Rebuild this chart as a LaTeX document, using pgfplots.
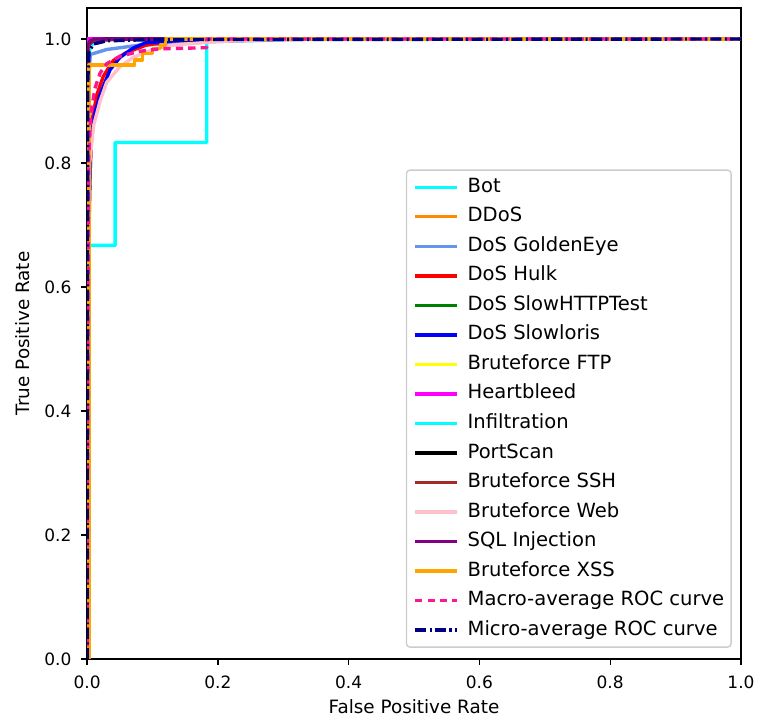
\documentclass[border=0pt]{standalone}
\usepackage{fontspec}
\setmainfont{DejaVu Sans}
\usepackage{pgfplots}
\pgfplotsset{compat=1.18}
\definecolor{cCyan}{RGB}{0,255,255}
\definecolor{cDarkOrange}{RGB}{255,140,0}
\definecolor{cCorn}{RGB}{100,149,237}
\definecolor{cRed}{RGB}{255,0,0}
\definecolor{cGreen}{RGB}{0,128,0}
\definecolor{cBlue}{RGB}{0,0,255}
\definecolor{cYellow}{RGB}{255,255,0}
\definecolor{cMagenta}{RGB}{255,0,255}
\definecolor{cBrown}{RGB}{165,42,42}
\definecolor{cPink}{RGB}{255,192,203}
\definecolor{cPurple}{RGB}{128,0,128}
\definecolor{cOrange}{RGB}{255,165,0}
\definecolor{cDeepPink}{RGB}{255,20,147}
\definecolor{cNavy}{RGB}{0,0,128}
\begin{document}
\begin{tikzpicture}
\path[use as bounding box] (-51.2pt,-37pt) rectangle (395.8pt,387.5pt);
\begin{axis}[
  at={(0pt,0pt)}, anchor=south west,
  scale only axis, width=384.6pt, height=382.8pt,
  xmin=0, xmax=1, ymin=0, ymax=1.05,
  axis line style={line width=0.8pt},
  xtick pos=bottom, ytick pos=left,
  tick align=outside, major tick length=3.5pt,
  tick style={line width=0.8pt, black},
  xtick={0,0.2,0.4,0.6,0.8,1.0}, ytick={0,0.2,0.4,0.6,0.8,1.0},
  xticklabel style={font=\fontsize{10}{12}\selectfont, inner sep=0pt, anchor=north, yshift=-6.6pt,
    /pgf/number format/.cd, fixed, fixed zerofill, precision=1, assume math mode=true},
  yticklabel style={font=\fontsize{10}{12}\selectfont, inner sep=0pt, anchor=east, xshift=-5.5pt,
    /pgf/number format/.cd, fixed, fixed zerofill, precision=1, assume math mode=true},
  xlabel={False Positive Rate}, ylabel={True Positive Rate},
  xlabel style={font=\fontsize{10.8}{13}\selectfont, at={(axis description cs:0.5,0)}, anchor=base, yshift=-32.2pt},
  ylabel style={font=\fontsize{10.8}{13}\selectfont, at={(axis description cs:0,0.5)}, anchor=base, yshift=34pt},
  legend image code/.code={\draw[#1] (0pt,0pt) -- (24.7pt,0pt);},
  legend cell align=left,
  legend style={at={(0.986,0.017)}, anchor=south east, draw=black!20, line width=0.8pt, rounded corners=2pt,
    fill=white, fill opacity=0.8, text opacity=1, font=\fontsize{11.5}{13}\selectfont,
    inner xsep=4.1pt, inner ysep=4.55pt, row sep=6.36pt,
    nodes={inner sep=0pt, text height=8.5pt, text depth=2.5pt},
    /tikz/every odd column/.append style={column sep=5.2pt}},
  every axis plot/.append style={line width=2pt, line join=round},
]
% Bot
\addplot[cCyan] coordinates {(0,0) (0.001,0.97) (0.006,0.99) (0.02,1) (1,1)};
\addlegendentry{Bot}
% DDoS
\addplot[cDarkOrange] coordinates {(0,0) (0.001,0.995) (0.02,1) (1,1)};
\addlegendentry{DDoS}
% DoS GoldenEye
\addplot[cCorn] coordinates {(0,0) (0.002,0.93) (0.005,0.975) (0.03,0.983) (0.08,0.99) (0.2,0.996) (0.35,1) (1,1)};
\addlegendentry{DoS GoldenEye}
% DoS Hulk
\addplot[cRed] coordinates {(0,0) (0.003,0.75) (0.008,0.87) (0.015,0.91) (0.025,0.94) (0.04,0.965) (0.06,0.978) (0.09,0.99) (0.13,0.997) (0.2,1) (1,1)};
\addlegendentry{DoS Hulk}
% DoS SlowHTTPTest
\addplot[cGreen] coordinates {(0,0) (0.001,0.99) (0.01,0.998) (0.05,1) (1,1)};
\addlegendentry{DoS SlowHTTPTest}
% DoS Slowloris
\addplot[cBlue] coordinates {(0,0) (0.003,0.7) (0.006,0.84) (0.012,0.88) (0.02,0.91) (0.035,0.95) (0.05,0.97) (0.07,0.985) (0.09,0.994) (0.15,0.998) (0.3,1) (1,1)};
\addlegendentry{DoS Slowloris}
% Bruteforce FTP
\addplot[cYellow] coordinates {(0,0) (0,1) (1,1)};
\addlegendentry{Bruteforce FTP}
% Heartbleed
\addplot[cMagenta] coordinates {(0,0) (0,1) (1,1)};
\addlegendentry{Heartbleed}
% Infiltration
\addplot[cCyan] coordinates {(0,0) (0.002,0.667) (0.043,0.667) (0.043,0.833) (0.183,0.833) (0.183,1) (1,1)};
\addlegendentry{Infiltration}
% PortScan
\addplot[black] coordinates {(0,0) (0.001,0.985) (0.005,0.997) (0.03,1) (1,1)};
\addlegendentry{PortScan}
% Bruteforce SSH
\addplot[cBrown] coordinates {(0,0) (0.002,0.99) (0.01,0.997) (0.05,1) (1,1)};
\addlegendentry{Bruteforce SSH}
% Bruteforce Web
\addplot[cPink] coordinates {(0,0) (0.004,0.8) (0.01,0.86) (0.02,0.9) (0.03,0.93) (0.05,0.955) (0.07,0.97) (0.1,0.983) (0.13,0.99) (0.2,0.996) (0.3,1) (1,1)};
\addlegendentry{Bruteforce Web}
% SQL Injection
\addplot[cPurple] coordinates {(0,0) (0,0.99) (0.01,1) (1,1)};
\addlegendentry{SQL Injection}
% Bruteforce XSS
\addplot[cOrange] coordinates {(0,0) (0.003,0) (0.003,0.958) (0.073,0.958) (0.073,0.966) (0.085,0.966) (0.085,0.977) (0.1,0.977) (0.1,0.985) (0.112,0.985) (0.112,0.99) (0.12,0.99) (0.12,1) (1,1)};
\addlegendentry{Bruteforce XSS}
% Macro average
\addplot[cDeepPink, dash pattern=on 4.3pt off 3pt] coordinates {(0,0) (0.002,0.8) (0.006,0.88) (0.012,0.92) (0.02,0.945) (0.03,0.96) (0.05,0.972) (0.08,0.98) (0.11,0.984) (0.183,0.986) (0.183,1) (1,1)};
\addlegendentry{Macro-average ROC curve}
% Micro average
\addplot[cNavy, dash pattern=on 6.5pt off 2pt on 1.2pt off 2pt] coordinates {(0,0) (0.001,0.93) (0.003,0.98) (0.01,0.992) (0.03,0.997) (0.1,0.999) (1,1)};
\addlegendentry{Micro-average ROC curve}
\end{axis}
\end{tikzpicture}
\end{document}
